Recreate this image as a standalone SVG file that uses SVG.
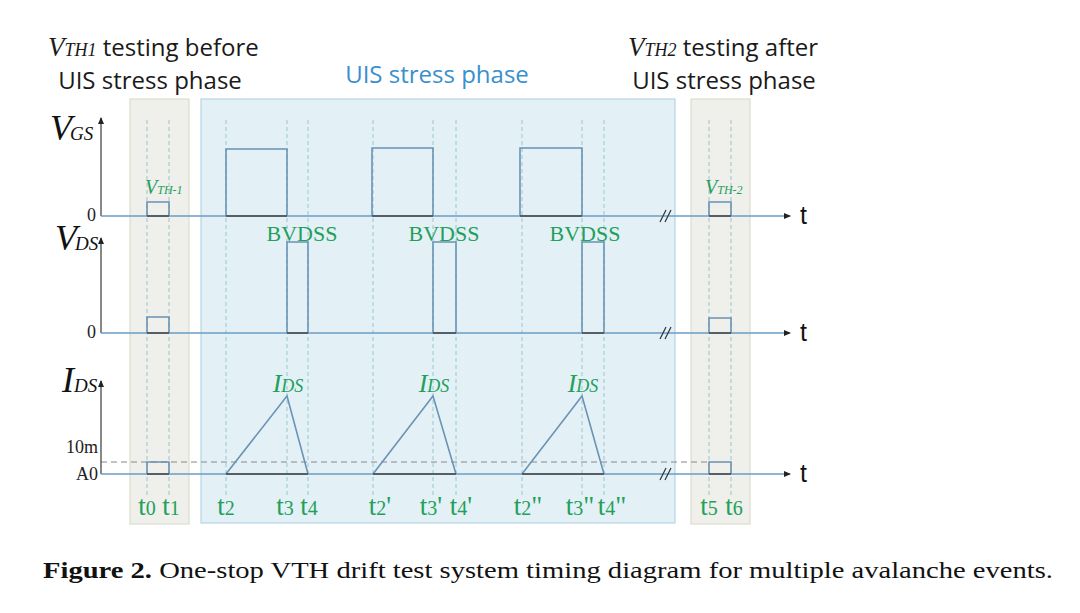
<svg xmlns="http://www.w3.org/2000/svg" width="1080" height="613" viewBox="0 0 1080 613">
<style>
.hdr{font-family:"Open Sans","Liberation Sans",sans-serif;font-size:24px;fill:#1a1a1a}
.it{font-family:"Liberation Serif",serif;font-style:italic}
.ax{font-family:"Liberation Serif",serif;font-size:18px;fill:#222}
.grn{font-family:"Liberation Serif",serif;fill:#22a05a}
.tl{font-family:"Liberation Serif",serif;font-size:27px;fill:#22a05a}
.cap{font-family:"Liberation Serif",serif;font-size:23px;fill:#111}
.tt{font-family:"Liberation Sans",sans-serif;font-size:25px;fill:#111}
.dash{stroke:#9cc4cc;stroke-width:1;stroke-dasharray:4,3;fill:none}
.sig{stroke:#6a93b4;stroke-width:1.6;fill:none}
.base{stroke:#6a9cc8;stroke-width:1.6;fill:none}
.axis{stroke:#555;stroke-width:1.4;fill:none}
</style>
<defs>
<marker id="ar" markerWidth="8" markerHeight="8" refX="6" refY="4" orient="auto" markerUnits="userSpaceOnUse"><path d="M0,1 L7,4 L0,7 z" fill="#222"/></marker>
</defs>
<rect width="1080" height="613" fill="#fff"/>
<g id="phase-left"><rect x="130" y="99" width="59" height="425" fill="#efefeb" stroke="#dcdccc" stroke-width="1.2"/></g>
<g id="phase-uis"><rect x="201" y="99" width="474" height="424" fill="#e3f1f7" stroke="#b6d4e4" stroke-width="1.2"/></g>
<g id="phase-right"><rect x="691" y="99" width="59" height="425" fill="#efefeb" stroke="#dcdccc" stroke-width="1.2"/></g>
<g id="headers">
<text class="hdr" x="48" y="56"><tspan class="it" font-size="27">V</tspan><tspan class="it" font-size="18">TH1</tspan> testing before</text>
<text class="hdr" x="150" y="89" text-anchor="middle">UIS stress phase</text>
<text class="hdr" x="437" y="83" text-anchor="middle" style="fill:#3a8fcc">UIS stress phase</text>
<text class="hdr" x="628" y="56"><tspan class="it" font-size="27">V</tspan><tspan class="it" font-size="18">TH2</tspan> testing after</text>
<text class="hdr" x="724" y="89" text-anchor="middle">UIS stress phase</text>
</g>
<g id="guides">
<path class="dash" d="M147,120V497M169,120V497M226,120V497M287,120V497M308,120V497M373,120V497M433,120V497M456,120V497M522,120V497M582,120V497M604,120V497M709,120V497M731,120V497"/>
<path d="M101,462H709" stroke="#888" stroke-width="1" stroke-dasharray="6,4" fill="none"/>
</g>
<g id="axes">
<path class="axis" d="M101,216V118" marker-end="url(#ar)"/>
<path class="axis" d="M101,333V238" marker-end="url(#ar)"/>
<path class="axis" d="M101,474V381" marker-end="url(#ar)"/>
<path class="base" d="M101,216H790" marker-end="url(#ar)"/>
<path class="base" d="M101,333H790" marker-end="url(#ar)"/>
<path class="base" d="M101,474H790" marker-end="url(#ar)"/>
<path d="M660,222L666,210M665,222L671,210" stroke="#333" stroke-width="1.2"/>
<path d="M660,339L666,327M665,339L671,327" stroke="#333" stroke-width="1.2"/>
<path d="M660,480L666,468M665,480L671,468" stroke="#333" stroke-width="1.2"/>
</g>
<g id="axis-labels">
<text class="it" x="50" y="140" font-size="36" fill="#111">V<tspan font-size="19" dx="-2">GS</tspan></text>
<text class="it" x="55" y="250" font-size="36" fill="#111">V<tspan font-size="19" dx="-2">DS</tspan></text>
<text class="it" x="62" y="392" font-size="36" fill="#111">I<tspan font-size="19">DS</tspan></text>
<text class="ax" x="96" y="221" text-anchor="end">0</text>
<text class="ax" x="96" y="338" text-anchor="end">0</text>
<text class="ax" x="98" y="453" text-anchor="end">10m</text>
<text class="ax" x="98" y="480" text-anchor="end">A0</text>
<text class="tt" x="800" y="224">t</text>
<text class="tt" x="800" y="341">t</text>
<text class="tt" x="800" y="482">t</text>
</g>
<g id="vgs-signal">
<path class="sig" d="M147,216V202H169V216M226,216V149H287V216M372,216V148H433V216M520,216V148H582V216M709,216V202H731V216"/>
<path d="M147,216H169M226,216H287M372,216H433M520,216H582M709,216H731" stroke="#444" stroke-width="1.4"/>
</g>
<g id="vds-signal">
<path class="sig" d="M147,333V317H169V333M287,333V242H308V333M433,333V242H456V333M582,333V242H604V333M709,333V318H731V333"/>
<path d="M147,333H169M287,333H308M433,333H456M582,333H604M709,333H731" stroke="#444" stroke-width="1.4"/>
</g>
<g id="ids-signal">
<path class="sig" d="M147,474V462H169V474M226,474L287,396L308,474M373,474L433,396L456,474M522,474L582,396L604,474M709,474V462H731V474"/>
<path d="M147,474H169M226,474H308M373,474H456M522,474H604M709,474H731" stroke="#444" stroke-width="1.4"/>
</g>
<g id="green-labels">
<text class="grn it" x="145" y="194" font-size="20">V<tspan font-size="12">TH-1</tspan></text>
<text class="grn it" x="705" y="194" font-size="20">V<tspan font-size="12">TH-2</tspan></text>
<text class="grn" x="302" y="241" font-size="22" text-anchor="middle">BVDSS</text>
<text class="grn" x="444" y="241" font-size="22" text-anchor="middle">BVDSS</text>
<text class="grn" x="585" y="241" font-size="22" text-anchor="middle">BVDSS</text>
<text class="grn it" x="288" y="392" font-size="26" text-anchor="middle">I<tspan font-size="18">DS</tspan></text>
<text class="grn it" x="434" y="392" font-size="26" text-anchor="middle">I<tspan font-size="18">DS</tspan></text>
<text class="grn it" x="583" y="392" font-size="26" text-anchor="middle">I<tspan font-size="18">DS</tspan></text>
</g>
<g id="time-labels">
<text class="tl" x="147" y="515" text-anchor="middle">t<tspan font-size="20">0</tspan></text>
<text class="tl" x="171" y="515" text-anchor="middle">t<tspan font-size="20">1</tspan></text>
<text class="tl" x="226" y="515" text-anchor="middle">t<tspan font-size="20">2</tspan></text>
<text class="tl" x="285" y="515" text-anchor="middle">t<tspan font-size="20">3</tspan></text>
<text class="tl" x="309" y="515" text-anchor="middle">t<tspan font-size="20">4</tspan></text>
<text class="tl" x="380" y="515" text-anchor="middle">t<tspan font-size="20">2</tspan>'</text>
<text class="tl" x="431" y="515" text-anchor="middle">t<tspan font-size="20">3</tspan>'</text>
<text class="tl" x="461" y="515" text-anchor="middle">t<tspan font-size="20">4</tspan>'</text>
<text class="tl" x="528" y="515" text-anchor="middle">t<tspan font-size="20">2</tspan>"</text>
<text class="tl" x="580" y="515" text-anchor="middle">t<tspan font-size="20">3</tspan>"</text>
<text class="tl" x="612" y="515" text-anchor="middle">t<tspan font-size="20">4</tspan>"</text>
<text class="tl" x="709" y="515" text-anchor="middle">t<tspan font-size="20">5</tspan></text>
<text class="tl" x="734" y="515" text-anchor="middle">t<tspan font-size="20">6</tspan></text>
</g>
<g id="caption">
<text class="cap" x="43" y="578" textLength="1010" lengthAdjust="spacingAndGlyphs"><tspan font-weight="bold">Figure 2.</tspan> One-stop VTH drift test system timing diagram for multiple avalanche events.</text>
</g>
</svg>
